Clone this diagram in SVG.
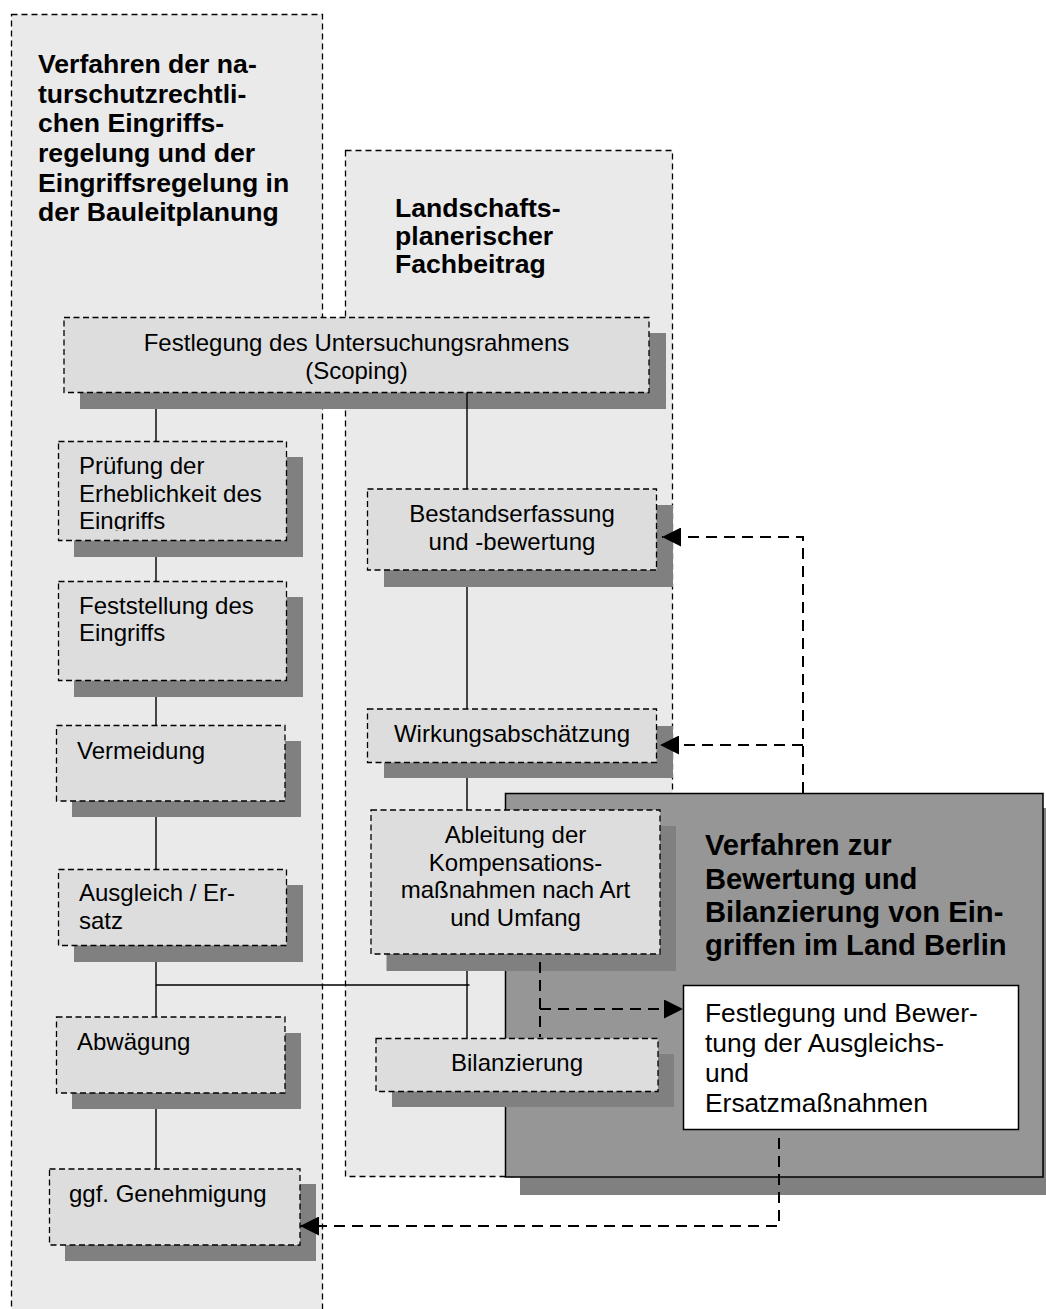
<svg xmlns="http://www.w3.org/2000/svg" width="1046" height="1309" viewBox="0 0 1046 1309">
<style>
.cont{fill:#eaeaea;stroke:#000;stroke-width:1.3;stroke-dasharray:6 4}
.box{fill:#dddddd;stroke:#000;stroke-width:1.3;stroke-dasharray:6 3.5}
.sh{fill:#808080}
.t{font-family:"Liberation Sans",Arial,sans-serif;font-size:24px;fill:#000}
.tc{font-family:"Liberation Sans",Arial,sans-serif;font-size:24px;fill:#000;text-anchor:middle}
.title{font-family:"Liberation Sans",Arial,sans-serif;font-size:26.6px;font-weight:bold;fill:#000}
.btitle{font-family:"Liberation Sans",Arial,sans-serif;font-size:29.2px;font-weight:bold;fill:#000}
.wt{font-family:"Liberation Sans",Arial,sans-serif;font-size:26.4px;fill:#000}
.line{fill:none;stroke:#000;stroke-width:1.4}
.dash{fill:none;stroke:#000;stroke-width:2;stroke-dasharray:11 7}
</style>
<defs>
<marker id="arr" viewBox="0 0 20 20" refX="20" refY="10" markerWidth="20" markerHeight="19" markerUnits="userSpaceOnUse" orient="auto">
<path d="M0 0 L20 10 L0 20 Z" fill="#000"/>
</marker>
<clipPath id="clipPr"><rect x="58" y="441" width="229" height="90"/></clipPath>
</defs>
<rect width="1046" height="1309" fill="#fff"/>

<g id="container-left">
<rect class="cont" x="11.5" y="14.5" width="311" height="1320"/>
<text class="title" x="38" y="73">Verfahren der na-</text>
<text class="title" x="38" y="103">turschutzrechtli-</text>
<text class="title" x="38" y="132">chen Eingriffs-</text>
<text class="title" x="38" y="162">regelung und der</text>
<text class="title" x="38" y="192">Eingriffsregelung in</text>
<text class="title" x="38" y="221">der Bauleitplanung</text>
</g>

<g id="container-middle">
<rect class="cont" x="345.5" y="150.5" width="327" height="1026"/>
<text class="title" x="395" y="217">Landschafts-</text>
<text class="title" x="395" y="245">planerischer</text>
<text class="title" x="395" y="273">Fachbeitrag</text>
</g>

<g id="container-berlin">
<rect class="sh" x="520" y="808" width="540" height="387"/>
<rect x="505.5" y="793.5" width="537.5" height="383.5" fill="#969696" stroke="#000" stroke-width="1.5"/>
<text class="btitle" x="705" y="855">Verfahren zur</text>
<text class="btitle" x="705" y="888.5">Bewertung und</text>
<text class="btitle" x="705" y="922">Bilanzierung von Ein-</text>
<text class="btitle" x="705" y="955">griffen im Land Berlin</text>
</g>

<g id="node-scoping">
<rect class="sh" x="80" y="333" width="586" height="76"/>
<rect class="box" x="64" y="317.5" width="585" height="75"/>
<text class="tc" x="356.5" y="351">Festlegung des Untersuchungsrahmens</text>
<text class="tc" x="356.5" y="378.5">(Scoping)</text>
</g>

<g id="node-pruefung">
<rect class="sh" x="74" y="457" width="229" height="100"/>
<rect class="box" x="58.5" y="441.5" width="228" height="99"/>
<g clip-path="url(#clipPr)">
<text class="t" x="79" y="474">Prüfung der</text>
<text class="t" x="79" y="501.5">Erheblichkeit des</text>
<text class="t" x="79" y="529">Eingriffs</text>
</g>
</g>

<g id="node-feststellung">
<rect class="sh" x="74" y="597" width="229" height="100"/>
<rect class="box" x="58.5" y="581.5" width="228" height="99"/>
<text class="t" x="79" y="613.5">Feststellung des</text>
<text class="t" x="79" y="641">Eingriffs</text>
</g>

<g id="node-vermeidung">
<rect class="sh" x="72" y="741" width="229" height="76"/>
<rect class="box" x="56.5" y="725.5" width="228.5" height="75.5"/>
<text class="t" x="77" y="758.5">Vermeidung</text>
</g>

<g id="node-ausgleich">
<rect class="sh" x="74" y="885" width="229" height="77"/>
<rect class="box" x="58.5" y="869.5" width="228" height="76"/>
<text class="t" x="79" y="901">Ausgleich / Er-</text>
<text class="t" x="79" y="929">satz</text>
</g>

<g id="node-abwaegung">
<rect class="sh" x="72" y="1033" width="229" height="76"/>
<rect class="box" x="56.5" y="1017" width="228.5" height="76"/>
<text class="t" x="77" y="1050">Abwägung</text>
</g>

<g id="node-genehmigung">
<rect class="sh" x="65" y="1184" width="251" height="77"/>
<rect class="box" x="49.5" y="1169" width="250.5" height="76"/>
<text class="t" x="69" y="1202">ggf. Genehmigung</text>
</g>

<g id="node-bestand">
<rect class="sh" x="384" y="505" width="289" height="82"/>
<rect class="box" x="367.5" y="489" width="289" height="81"/>
<text class="tc" x="512" y="521.5">Bestandserfassung</text>
<text class="tc" x="512" y="550">und -bewertung</text>
</g>

<g id="node-wirkung">
<rect class="sh" x="384" y="726" width="289" height="52"/>
<rect class="box" x="367.5" y="709" width="289" height="53.5"/>
<text class="tc" x="512" y="742">Wirkungsabschätzung</text>
</g>

<g id="node-ableitung">
<rect class="sh" x="386.5" y="826" width="289.5" height="145"/>
<rect class="box" x="371" y="810" width="289" height="144"/>
<text class="tc" x="515.5" y="843">Ableitung der</text>
<text class="tc" x="515.5" y="870.5">Kompensations-</text>
<text class="tc" x="515.5" y="898">maßnahmen nach Art</text>
<text class="tc" x="515.5" y="925.5">und Umfang</text>
</g>

<g id="node-bilanzierung">
<rect class="sh" x="392" y="1054" width="282" height="53"/>
<rect class="box" x="376" y="1038.5" width="282" height="53"/>
<text class="tc" x="517" y="1070.5">Bilanzierung</text>
</g>

<g id="node-festlegung-ausgleich">
<rect x="683.5" y="985.5" width="335" height="144" fill="#fff" stroke="#000" stroke-width="1.5"/>
<text class="wt" x="705" y="1021.5">Festlegung und Bewer-</text>
<text class="wt" x="705" y="1051.5">tung der Ausgleichs-</text>
<text class="wt" x="705" y="1081.5">und</text>
<text class="wt" x="705" y="1111.5">Ersatzmaßnahmen</text>
</g>

<g id="connectors">
<path class="line" d="M156 409 V441.5 M156 557 V581.5 M156 697 V725.5 M156 817 V869.5 M156 962 V1017 M156 985 H469.5 M156 1109 V1169"/>
<path class="line" d="M467 392.5 V489 M467 587 V709 M467 778 V810 M467 971 V1038.5"/>
<path class="dash" d="M803 793 V537 H662" marker-end="url(#arr)"/>
<path class="dash" d="M803 745 H660" marker-end="url(#arr)"/>
<path class="dash" d="M540 962 V1037"/>
<path class="dash" d="M540 1009 H683" marker-end="url(#arr)"/>
<path class="dash" d="M779 1138 V1226 H300" marker-end="url(#arr)"/>
</g>
</svg>
